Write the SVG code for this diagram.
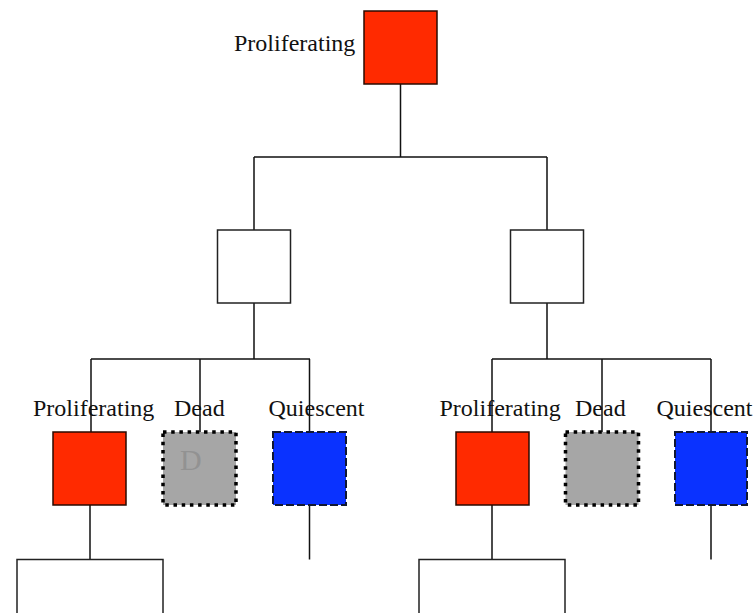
<svg xmlns="http://www.w3.org/2000/svg" width="755" height="613" viewBox="0 0 755 613">
<style>
.lbl{font-family:"Liberation Serif","Times New Roman",serif;font-size:24px;fill:#111}
.prol{fill:#ff2a00;stroke:#2a0a00;stroke-width:1.5}
.empty{fill:#fff;stroke:#222;stroke-width:1.5}
.dead{fill:#a6a6a6;stroke:#000;stroke-width:3.5;stroke-dasharray:3.5 4.7}
.qui{fill:#0a32ff;stroke:#111833;stroke-width:2;stroke-dasharray:8 3}
.conn{fill:none;stroke:#111;stroke-width:1.5}
</style>
<rect width="755" height="613" fill="#fff"/>
<g id="connectors">
<path class="conn" d="M400.5 84V157M254 157H547M254 157V230M547 157V230"/>
<path class="conn" d="M254 303V359M91 359H310M91 359V432M200 359V432M309.5 359V432"/>
<path class="conn" d="M547 303V359M492 359H711M492 359V432M602 359V432M711 359V432"/>
<path class="conn" d="M90 505V559.5M492 505V559.5M309.5 505V559.5M711 505V559.5"/>
</g>
<g id="root">
<rect class="prol" x="364" y="11" width="73" height="73"/>
<text class="lbl" x="234" y="51">Proliferating</text>
</g>
<g id="mid-left"><rect class="empty" x="217.5" y="230" width="73" height="73"/></g>
<g id="mid-right"><rect class="empty" x="510.5" y="230" width="73" height="73"/></g>
<g id="l-prol">
<rect class="prol" x="53" y="432" width="73" height="73"/>
<text class="lbl" x="33" y="416">Proliferating</text>
</g>
<g id="l-dead">
<rect class="dead" x="163" y="432" width="73" height="73"/>
<text x="180" y="470" style="font-family:'Liberation Serif',serif;font-size:30px;fill:#929292">D</text>
<text class="lbl" x="174" y="416">Dead</text>
</g>
<g id="l-qui">
<rect class="qui" x="273" y="432" width="73" height="73"/>
<text class="lbl" x="268.5" y="416">Quiescent</text>
</g>
<g id="r-prol">
<rect class="prol" x="456" y="432" width="73" height="73"/>
<text class="lbl" x="439.5" y="416">Proliferating</text>
</g>
<g id="r-dead">
<rect class="dead" x="565.5" y="432" width="73" height="73"/>
<text class="lbl" x="575" y="416">Dead</text>
</g>
<g id="r-qui">
<rect class="qui" x="675" y="432" width="72" height="73"/>
<text class="lbl" x="656.5" y="416">Quiescent</text>
</g>
<g id="bl-box"><rect class="empty" x="17" y="559.5" width="146" height="80"/></g>
<g id="br-box"><rect class="empty" x="419" y="559.5" width="146" height="80"/></g>
</svg>
